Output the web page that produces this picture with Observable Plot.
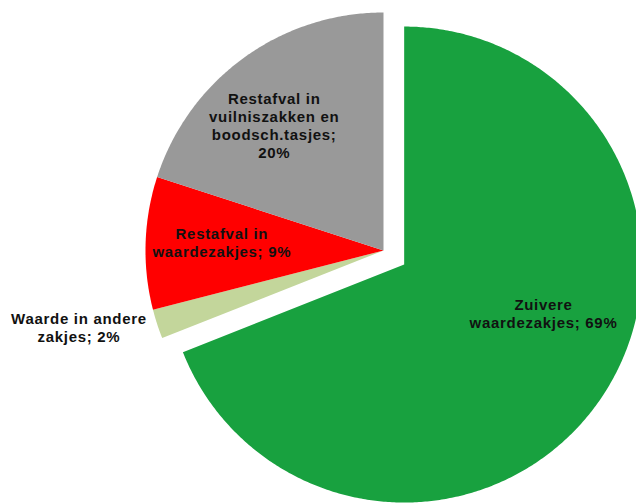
<!DOCTYPE html>
<html><head><meta charset="utf-8">
<script src="https://cdn.jsdelivr.net/npm/d3@7"></script>
<script src="https://cdn.jsdelivr.net/npm/@observablehq/plot@0.6"></script>
<style>
html,body{margin:0;padding:0;background:#fff;overflow:hidden}
#chart svg text{letter-spacing:0.7px}
</style></head><body><div id="chart"></div>
<script>
// data
const categories = ["Zuivere waardezakjes", "Waarde in andere zakjes", "Restafval in waardezakjes", "Restafval in vuilniszakken en boodsch.tasjes"];
const values = [69, 2, 9, 20];
const labels = ["Zuivere\nwaardezakjes; 69%", "Waarde in andere\nzakjes; 2%", "Restafval in\nwaardezakjes; 9%", "Restafval in\nvuilniszakken en\nboodsch.tasjes;\n20%"];
const colors = ["#18a13f", "#c3d69b", "#ff0000", "#999999"];

// layout (in units of the pie radius)
const cx = 383, cy = 250, R = 238;
const explode = [0.105, 0, 0, 0];
const labelRadius = [0.62, 1.32, 0.68, 0.70];
const labelTurn = [-15, 3.8, 1, -5]; // degrees relative to slice bisector

const arcs = d3.pie().sort(null).value(d => d)(values);
const slices = arcs.map((a, i) => {
  const mid = (a.startAngle + a.endAngle) / 2;
  const ox = explode[i] * Math.sin(mid), oy = -explode[i] * Math.cos(mid);
  const n = Math.max(2, Math.ceil((a.endAngle - a.startAngle) / (Math.PI / 360)));
  const pts = [{x: ox, y: oy}];
  for (let k = 0; k <= n; k++) {
    const t = a.startAngle + (a.endAngle - a.startAngle) * k / n;
    pts.push({x: ox + Math.sin(t), y: oy - Math.cos(t)});
  }
  const la = mid + labelTurn[i] * Math.PI / 180;
  return {
    name: categories[i], color: colors[i], pts,
    label: {text: labels[i], x: ox + labelRadius[i] * Math.sin(la), y: oy - labelRadius[i] * Math.cos(la)}
  };
});

const chart = Plot.plot({
  width: 636, height: 504, margin: 0,
  x: {domain: [-1, 1], range: [cx - R, cx + R], axis: null},
  y: {domain: [-1, 1], range: [cy - R, cy + R], axis: null},
  marks: [
    ...slices.map(s => Plot.line(s.pts, {x: "x", y: "y", fill: s.color, stroke: "none", curve: "linear-closed"})),
    Plot.text(slices.map(s => s.label), {
      x: "x", y: "y", text: "text", fill: "#111", fontSize: 15, fontWeight: "bold",
      fontFamily: "\"Liberation Sans\", Arial, sans-serif", lineHeight: 1.2, textAnchor: "middle"
    })
  ]
});
document.getElementById("chart").appendChild(chart);
</script></body></html>
